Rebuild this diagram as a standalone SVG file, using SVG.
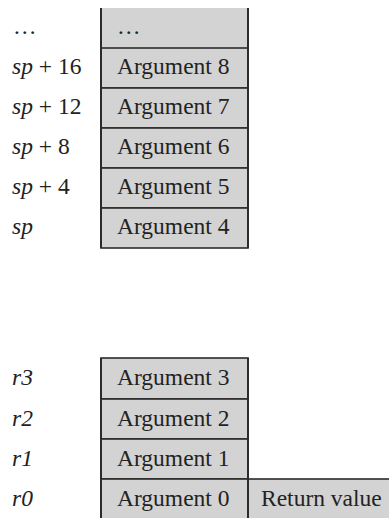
<svg xmlns="http://www.w3.org/2000/svg" width="389" height="518" viewBox="0 0 389 518">
<style>
.cell{fill:#d3d3d3;stroke:#2b2b2b;stroke-width:1.6}
.t{font-size:23.5px;fill:#222}
.i{font-style:italic}
</style>
<rect width="389" height="518" fill="#fff"/>
<g font-family="'Liberation Serif', 'Times New Roman', 'DejaVu Serif', serif">
<g id="stack-top">
<rect x="101" y="8" width="147" height="240" fill="#d3d3d3"/>
<g id="cell-dots"><text class="t" x="117" y="34">…</text></g>
<g id="cell-arg8"><rect class="cell" x="101" y="48" width="147" height="40"/><text class="t" x="117" y="74">Argument 8</text></g>
<g id="cell-arg7"><rect class="cell" x="101" y="88" width="147" height="40"/><text class="t" x="117" y="114">Argument 7</text></g>
<g id="cell-arg6"><rect class="cell" x="101" y="128" width="147" height="40"/><text class="t" x="117" y="154">Argument 6</text></g>
<g id="cell-arg5"><rect class="cell" x="101" y="168" width="147" height="40"/><text class="t" x="117" y="194">Argument 5</text></g>
<g id="cell-arg4"><rect class="cell" x="101" y="208" width="147" height="40"/><text class="t" x="117" y="234">Argument 4</text></g>
<path d="M101 8V248M248 8V248" stroke="#2b2b2b" stroke-width="2" fill="none"/>
</g>
<g id="labels-top">
<text class="t" x="13" y="34">…</text>
<text class="t" x="12" y="74"><tspan class="i">sp</tspan> + 16</text>
<text class="t" x="12" y="114"><tspan class="i">sp</tspan> + 12</text>
<text class="t" x="12" y="154"><tspan class="i">sp</tspan> + 8</text>
<text class="t" x="12" y="194"><tspan class="i">sp</tspan> + 4</text>
<text class="t i" x="12" y="234">sp</text>
</g>
<g id="registers">
<g id="cell-arg3"><rect class="cell" x="101" y="358" width="147" height="41"/><text class="t" x="117" y="385">Argument 3</text></g>
<g id="cell-arg2"><rect class="cell" x="101" y="399" width="147" height="40"/><text class="t" x="117" y="426">Argument 2</text></g>
<g id="cell-arg1"><rect class="cell" x="101" y="439" width="147" height="40"/><text class="t" x="117" y="466">Argument 1</text></g>
<g id="cell-arg0"><rect class="cell" x="101" y="479" width="147" height="42"/><text class="t" x="117" y="506">Argument 0</text></g>
<g id="cell-ret"><rect class="cell" x="248" y="479" width="145" height="42"/><text class="t" x="261" y="506">Return value</text></g>
<path d="M101 358V518M248 358V518" stroke="#2b2b2b" stroke-width="2" fill="none"/>
</g>
<g id="labels-bottom">
<text class="t i" x="12" y="385">r3</text>
<text class="t i" x="12" y="426">r2</text>
<text class="t i" x="12" y="466">r1</text>
<text class="t i" x="12" y="506">r0</text>
</g>
</g>
<g id="connectors"/>
</svg>
